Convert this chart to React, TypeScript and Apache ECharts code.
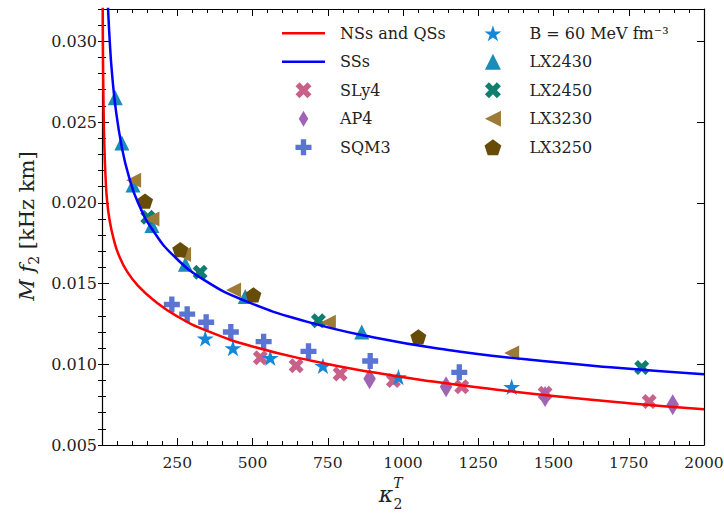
import React, { useEffect, useRef } from "react";
import * as echarts from "echarts";

// ---- axis settings ----
const X_MIN = 0;
const X_MAX = 2000;
const X_TICK = 250;
const Y_MIN = 0.005;
const Y_MAX = 0.032;
const Y_TICK = 0.005;
const Y_MINOR = 0.001;

// ---- fit curves ----
const nsKappa = [2, 3, 5, 8, 12, 17, 25, 38, 55, 83, 120, 171, 250, 350, 500, 700, 900, 1100, 1300, 1500, 1750, 2000];
const nsMf2 = [0.0335, 0.03, 0.0262, 0.0234, 0.0215, 0.0201, 0.01895, 0.0178, 0.0168, 0.01575, 0.01485, 0.01398, 0.01297, 0.01206, 0.0111, 0.0102, 0.0095, 0.00893, 0.00845, 0.00803, 0.00759, 0.00721];

const ssKappa = [16, 20, 26, 33, 46, 66, 88, 120, 170, 240, 340, 480, 680, 900, 1150, 1400, 1700, 2000];
const ssMf2 = [0.03406, 0.03209, 0.02992, 0.02808, 0.02575, 0.02343, 0.02171, 0.01999, 0.01827, 0.01668, 0.01521, 0.01389, 0.01264, 0.01167, 0.01088, 0.01032, 0.0098, 0.00938];

// ---- EOS points ----
const sly4Kappa = [526, 645, 791, 968, 1195, 1472, 1818];
const sly4Mf2 = [0.0104, 0.0099, 0.0094, 0.009, 0.0086, 0.0082, 0.0077];

const ap4Kappa = [889, 1143, 1472, 1896];
const ap4Mf2 = [0.0091, 0.0086, 0.008, 0.0075];

const sqm3Kappa = [232, 283, 346, 428, 537, 686, 891, 1187];
const sqm3Mf2 = [0.0137, 0.0131, 0.0126, 0.012, 0.0114, 0.0108, 0.0102, 0.0095];

const b60Kappa = [343, 435, 559, 734, 985, 1361];
const b60Mf2 = [0.0116, 0.011, 0.0104, 0.0099, 0.0092, 0.0086];

const lx2430Kappa = [44, 66, 103, 166, 277, 476, 863];
const lx2430Mf2 = [0.0265, 0.0237, 0.0211, 0.0186, 0.0162, 0.0142, 0.012];

const lx2450Kappa = [152, 326, 719, 1793];
const lx2450Mf2 = [0.0191, 0.0157, 0.0127, 0.0098];

const lx3230Kappa = [105, 166, 271, 437, 752, 1361];
const lx3230Mf2 = [0.0214, 0.019, 0.0168, 0.0146, 0.0126, 0.0107];

const lx3250Kappa = [143, 260, 503, 1051];
const lx3250Mf2 = [0.0201, 0.0171, 0.0143, 0.0117];

// ---- names ----
const NAME_NS = "NSs and QSs";
const NAME_SS = "SSs";
const NAME_B60 = "B = 60 MeV fm\u207B\u00B3";

const FONT = "DejaVu Serif";
const INK = "#222";

// marker shapes
const P_X = "path://M1.414,-2.828L0,-1.414L-1.414,-2.828L-2.828,-1.414L-1.414,0L-2.828,1.414L-1.414,2.828L0,1.414L1.414,2.828L2.828,1.414L1.414,0L2.828,-1.414Z";
const P_PLUS = "path://M-1,-3L-1,-1L-3,-1L-3,1L-1,1L-1,3L1,3L1,1L3,1L3,-1L1,-1L1,-3Z";
const P_STAR = "path://M0,-1L0.2245,-0.309L0.951,-0.309L0.3633,0.118L0.588,0.809L0,0.382L-0.588,0.809L-0.3633,0.118L-0.951,-0.309L-0.2245,-0.309Z";
const P_PENT = "path://M0,-1L0.951,-0.309L0.588,0.809L-0.588,0.809L-0.951,-0.309Z";
const P_TRI_UP = "path://M0,-1L1,1L-1,1Z";
const P_TRI_LEFT = "path://M-1,0L1,-1L1,1Z";
const P_DIAMOND = "path://M0,-1.6L0.95,0L0,1.6L-0.95,0Z";
const P_LINE_ICON = "path://M0,0L43,0L43,2.5L0,2.5Z";

function pairs(k: number[], v: number[]) {
  return k.map((x, i) => [x, v[i]]);
}

export default function App() {
  const ref = useRef<HTMLDivElement>(null);

  useEffect(() => {
    if (!ref.current) return;
    const chart = echarts.init(ref.current, undefined, { renderer: "svg" });

    const scatterDefs = [
      { name: "SLy4", k: sly4Kappa, v: sly4Mf2, color: "#c8608a", symbol: P_X, size: 15 },
      { name: "AP4", k: ap4Kappa, v: ap4Mf2, color: "#a064b4", symbol: P_DIAMOND, size: 21 },
      { name: "SQM3", k: sqm3Kappa, v: sqm3Mf2, color: "#5a74d2", symbol: P_PLUS, size: 16 },
      { name: NAME_B60, k: b60Kappa, v: b60Mf2, color: "#1387d8", symbol: P_STAR, size: 17 },
      { name: "LX2430", k: lx2430Kappa, v: lx2430Mf2, color: "#1a8cb8", symbol: P_TRI_UP, size: 15 },
      { name: "LX2450", k: lx2450Kappa, v: lx2450Mf2, color: "#0f7d70", symbol: P_X, size: 15 },
      { name: "LX3230", k: lx3230Kappa, v: lx3230Mf2, color: "#9c7b37", symbol: P_TRI_LEFT, size: 15 },
      { name: "LX3250", k: lx3250Kappa, v: lx3250Mf2, color: "#664c06", symbol: P_PENT, size: 16 },
    ];

    const scatterSeries = scatterDefs.map((d) => ({
      type: "scatter",
      name: d.name,
      data: pairs(d.k, d.v),
      symbol: d.symbol,
      symbolSize: d.size,
      symbolKeepAspect: true,
      itemStyle: { color: d.color, opacity: 1 },
      z: 2,
      emphasis: { disabled: true },
    }));

    const lineSeries = [
      { name: NAME_NS, k: nsKappa, v: nsMf2, color: "#ff0000" },
      { name: NAME_SS, k: ssKappa, v: ssMf2, color: "#0000ff" },
    ].map((d) => ({
      type: "line",
      name: d.name,
      data: pairs(d.k, d.v),
      symbol: "none",
      smooth: 0.5,
      clip: true,
      lineStyle: { color: d.color, width: 2.5 },
      itemStyle: { color: d.color },
      z: 3,
      emphasis: { disabled: true },
    }));

    const axisLine = { show: true, onZero: false, lineStyle: { color: "#000", width: 1.2 } };
    const tickStyle = { color: "#000", width: 1 };

    const isMajorY = (v: number) => Math.abs(v / Y_TICK - Math.round(v / Y_TICK)) < 1e-6;

    const legendCommon = {
      orient: "vertical",
      top: 23.3,
      itemWidth: 43,
      itemHeight: 16,
      itemGap: 8.5,
      padding: 0,
      selectedMode: false,
      symbolKeepAspect: true,
      textStyle: { fontFamily: FONT, fontSize: 16, color: INK, lineHeight: 20, padding: [0, 0, 0, 10] },
    };

    chart.setOption({
      animation: false,
      backgroundColor: "#fff",
      textStyle: { fontFamily: FONT },
      grid: { left: 102, right: 20, top: 9, bottom: 68, outerBoundsMode: "none", containLabel: false },
      xAxis: [
        {
          type: "value",
          position: "bottom",
          min: X_MIN,
          max: X_MAX,
          interval: X_TICK,
          axisLine,
          axisTick: { show: true, inside: true, length: 7, lineStyle: tickStyle },
          minorTick: { show: true, splitNumber: 5, length: 4, lineStyle: tickStyle },
          splitLine: { show: false },
          minorSplitLine: { show: false },
          axisLabel: {
            fontFamily: FONT,
            fontSize: 15.5,
            color: INK,
            margin: 10,
            formatter: (v: number) => (v === 0 ? "" : String(v)),
          },
        },
        {
          type: "value",
          position: "top",
          min: X_MIN,
          max: X_MAX,
          interval: X_TICK,
          axisLine,
          axisTick: { show: true, inside: true, length: 7, lineStyle: tickStyle },
          minorTick: { show: true, splitNumber: 5, length: 4, lineStyle: tickStyle },
          splitLine: { show: false },
          axisLabel: { show: false },
        },
      ],
      yAxis: [
        {
          type: "value",
          position: "left",
          min: Y_MIN,
          max: Y_MAX,
          interval: Y_TICK,
          axisLine,
          axisTick: { show: true, inside: true, length: 7, lineStyle: tickStyle },
          splitLine: { show: false },
          axisLabel: {
            fontFamily: FONT,
            fontSize: 16,
            color: INK,
            margin: 5,
            formatter: (v: number) => (isMajorY(v) ? v.toFixed(3) : ""),
          },
        },
        {
          type: "value",
          position: "left",
          min: Y_MIN,
          max: Y_MAX,
          interval: Y_MINOR,
          axisLine: { show: false },
          axisTick: { show: true, inside: true, length: 4, lineStyle: tickStyle },
          splitLine: { show: false },
          axisLabel: { show: false },
        },
        {
          type: "value",
          position: "right",
          min: Y_MIN,
          max: Y_MAX,
          interval: Y_TICK,
          axisLine,
          axisTick: { show: true, inside: true, length: 7, lineStyle: tickStyle },
          splitLine: { show: false },
          axisLabel: { show: false },
        },
        {
          type: "value",
          position: "right",
          min: Y_MIN,
          max: Y_MAX,
          interval: Y_MINOR,
          axisLine: { show: false },
          axisTick: { show: true, inside: true, length: 4, lineStyle: tickStyle },
          splitLine: { show: false },
          axisLabel: { show: false },
        },
      ],
      legend: [
        {
          ...legendCommon,
          left: 282,
          data: [
            { name: NAME_NS, icon: P_LINE_ICON },
            { name: NAME_SS, icon: P_LINE_ICON },
            "SLy4",
            "AP4",
            "SQM3",
          ],
        },
        { ...legendCommon, left: 484.5, data: [NAME_B60, "LX2430", "LX2450", "LX3230", "LX3250"] },
      ],
      graphic: [
        {
          type: "text",
          x: 27,
          y: 226,
          rotation: Math.PI / 2,
          style: {
            text: "{i|M f}{s|2}{n| [kHz km]}",
            align: "center",
            verticalAlign: "middle",
            rich: {
              i: { fontFamily: FONT, fontStyle: "italic", fontSize: 21, fill: INK, lineHeight: 28, verticalAlign: "middle" },
              s: { fontFamily: FONT, fontSize: 14, fill: INK, lineHeight: 14, verticalAlign: "bottom" },
              n: { fontFamily: FONT, fontSize: 21, fill: INK, lineHeight: 28, verticalAlign: "middle" },
            },
          },
        },
        {
          type: "text",
          x: 386,
          y: 494,
          style: { text: "\u03BA", fontFamily: FONT, fontStyle: "italic", fontSize: 22, fill: INK, align: "center", verticalAlign: "middle" },
        },
        {
          type: "text",
          x: 398,
          y: 483,
          style: { text: "T", fontFamily: FONT, fontStyle: "italic", fontSize: 14, fill: INK, align: "center", verticalAlign: "middle" },
        },
        {
          type: "text",
          x: 398,
          y: 504,
          style: { text: "2", fontFamily: FONT, fontSize: 14, fill: INK, align: "center", verticalAlign: "middle" },
        },
      ],
      series: [...scatterSeries, ...lineSeries],
    });

    return () => chart.dispose();
  }, []);

  return <div ref={ref} style={{ position: "absolute", left: 0, top: 0, width: 724, height: 513 }} />;
}
